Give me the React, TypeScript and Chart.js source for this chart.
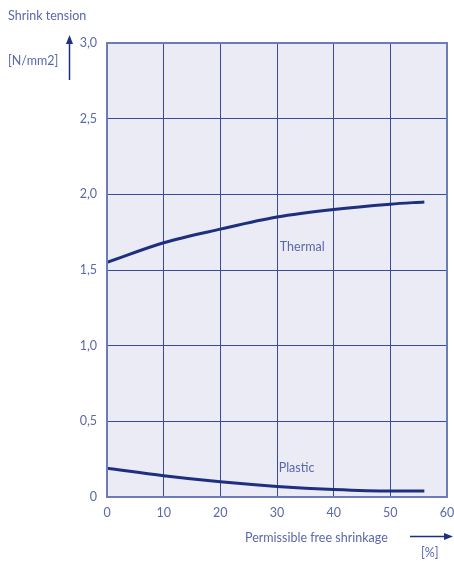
import React, { useEffect, useRef } from "react";
import { Chart, registerables } from "chart.js";

Chart.register(...registerables);

const shrinkage = [0, 10, 20, 30, 40, 50, 56];
const thermal = [1.55, 1.68, 1.77, 1.85, 1.9, 1.935, 1.95];
const plastic = [0.19, 0.14, 0.1, 0.07, 0.05, 0.04, 0.04];
const yTickLabels = ["0", "0,5", "1,0", "1,5", "2,0", "2,5", "3,0"];

const TEXT = "#5a68ab";
const LINE = "#1f2f80";
const GRID = "#3a4a98";
const FONT = "Lato, 'Open Sans', sans-serif";
const FS = 12.5;

const decorPlugin = {
  id: "decor",
  beforeDraw(chart: any) {
    const { ctx, chartArea } = chart;
    ctx.save();
    ctx.fillStyle = "#eaebf4";
    ctx.fillRect(chartArea.left, chartArea.top, chartArea.right - chartArea.left, chartArea.bottom - chartArea.top);
    ctx.restore();
  },
  afterDraw(chart: any) {
    const { ctx, chartArea } = chart;
    ctx.save();
    ctx.strokeStyle = "#6d7bb8";
    ctx.lineWidth = 2;
    ctx.strokeRect(chartArea.left, chartArea.top, chartArea.right - chartArea.left, chartArea.bottom - chartArea.top);
    ctx.fillStyle = TEXT;
    ctx.font = `${FS}px ${FONT}`;
    ctx.textBaseline = "middle";
    ctx.textAlign = "left";
    ctx.fillText("Shrink tension", 8, 16);
    ctx.fillText("[N/mm2]", 8, 61);
    ctx.fillText("Permissible free shrinkage", 245, 538);
    ctx.fillText("[%]", 421, 553);
    const xs = chart.scales.x;
    const ys = chart.scales.y;
    ctx.fillText("Thermal", xs.getPixelForValue(30.5), ys.getPixelForValue(1.65));
    ctx.fillText("Plastic", xs.getPixelForValue(30.3), ys.getPixelForValue(0.19));
    ctx.strokeStyle = "#1f2f80";
    ctx.fillStyle = "#1f2f80";
    ctx.lineWidth = 1.5;
    ctx.beginPath();
    ctx.moveTo(69.5, 80);
    ctx.lineTo(69.5, 40);
    ctx.stroke();
    ctx.beginPath();
    ctx.moveTo(69.5, 35);
    ctx.lineTo(66, 44);
    ctx.lineTo(73, 44);
    ctx.closePath();
    ctx.fill();
    ctx.beginPath();
    ctx.moveTo(410, 536.5);
    ctx.lineTo(447, 536.5);
    ctx.stroke();
    ctx.beginPath();
    ctx.moveTo(453, 536.5);
    ctx.lineTo(444, 533);
    ctx.lineTo(444, 540);
    ctx.closePath();
    ctx.fill();
    ctx.restore();
  },
};

export default function App() {
  const ref = useRef<HTMLCanvasElement | null>(null);
  useEffect(() => {
    if (!ref.current) return;
    const chart = new Chart(ref.current, {
      type: "line",
      data: {
        datasets: [
          {
            label: "Thermal",
            data: shrinkage.map((x, i) => ({ x, y: thermal[i] })),
            borderColor: LINE,
            borderWidth: 3,
            pointRadius: 0,
            cubicInterpolationMode: "monotone",
            fill: false,
          },
          {
            label: "Plastic",
            data: shrinkage.map((x, i) => ({ x, y: plastic[i] })),
            borderColor: LINE,
            borderWidth: 3,
            pointRadius: 0,
            cubicInterpolationMode: "monotone",
            fill: false,
          },
        ],
      },
      options: {
        animation: false,
        responsive: false,
        events: [],
        layout: { padding: { top: 43, right: 7, left: 0, bottom: 0 } },
        plugins: { legend: { display: false }, tooltip: { enabled: false } },
        scales: {
          x: {
            type: "linear",
            min: 0,
            max: 60,
            ticks: {
              stepSize: 10,
              color: TEXT,
              font: { family: FONT, size: FS },
              padding: 8,
            },
            grid: { color: GRID, lineWidth: 1, drawTicks: false },
            border: { display: false },
            afterFit: (s: any) => {
              s.height = 64;
              s.paddingLeft = 0;
              s.paddingRight = 0;
            },
          },
          y: {
            min: 0,
            max: 3,
            ticks: {
              stepSize: 0.5,
              color: TEXT,
              font: { family: FONT, size: FS },
              padding: 10,
              callback: (v: any) => yTickLabels[Math.round(Number(v) * 2)],
            },
            grid: { color: GRID, lineWidth: 1, drawTicks: false },
            border: { display: false },
            afterFit: (s: any) => {
              s.width = 107;
              s.paddingTop = 0;
              s.paddingBottom = 0;
            },
          },
        },
      },
      plugins: [decorPlugin],
    } as any);
    return () => chart.destroy();
  }, []);
  return (
    <div style={{ position: "fixed", left: 0, top: 0, width: 454, height: 561, background: "#fff" }}>
      <canvas ref={ref} width={454} height={561} style={{ width: 454, height: 561 }} />
    </div>
  );
}
